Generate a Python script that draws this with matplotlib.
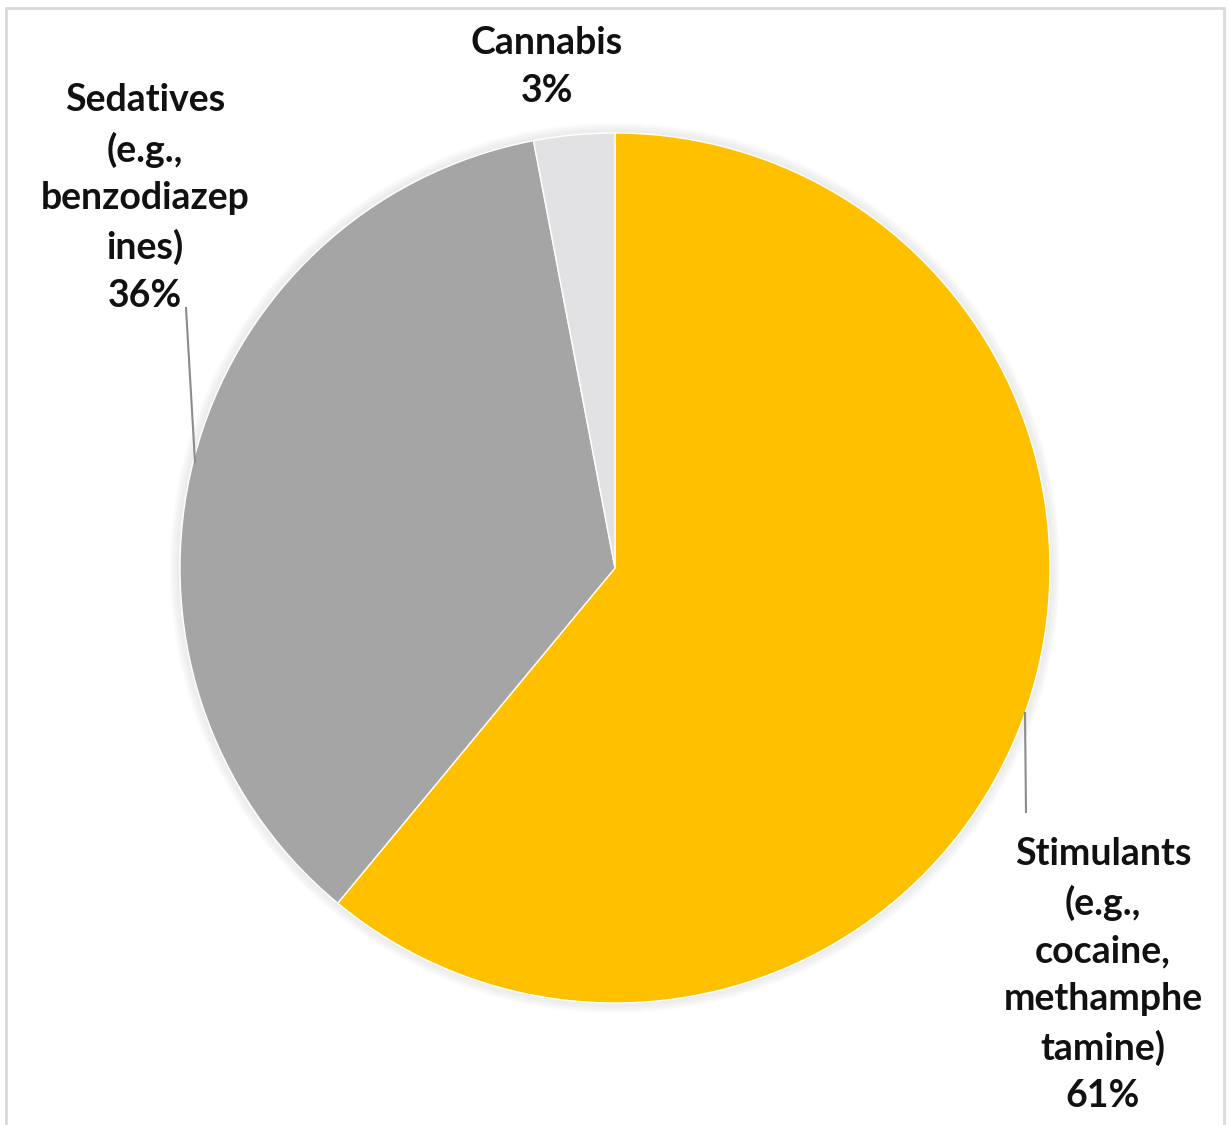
import matplotlib.pyplot as plt
from matplotlib.patches import Rectangle

labels = ["Stimulants\n(e.g.,\ncocaine,\nmethamphe\ntamine)", "Sedatives\n(e.g.,\nbenzodiazep\nines)", "Cannabis"]
values = [61, 36, 3]
colors = ["#FFC000", "#A5A5A5", "#E2E2E5"]

W, H = 1230, 1125
fig = plt.figure(figsize=(12.3, 11.25), dpi=100)
ax = fig.add_axes([0, 0, 1, 1])

# soft shadow around the pie
cx, cy, r = 615, H - 568, 435
for i in range(8):
    ax.add_patch(plt.Circle((cx, cy), r + 10 - i, color="#D8D8D8", alpha=0.06, lw=0))

ax.pie(values, colors=colors, startangle=90, counterclock=False,
       center=(cx, cy), radius=r, frame=True,
       wedgeprops=dict(edgecolor="white", linewidth=1))
ax.set_xlim(0, W)
ax.set_ylim(0, H)
ax.set_aspect("equal")
ax.axis("off")

font = dict(fontsize=27, fontweight="bold", family="Lato", color="#111111",
            ha="center", va="center", linespacing=1.47)
pos = [(1103, 975), (145, 198), (547, 67)]
for lab, v, (x, y) in zip(labels, values, pos):
    ax.text(x, H - y, f"{lab}\n{v}%", **font)

# leader lines
ax.plot([1025, 1026], [H - 713, H - 812], color="#8C8C8C", lw=1.5)
ax.plot([186, 195], [H - 308, H - 462], color="#8C8C8C", lw=1.5)

fig.patches.append(Rectangle((6 / W, -0.01), (1224 - 6) / W, (H - 8) / H + 0.01,
                             transform=fig.transFigure, fill=False,
                             edgecolor="#D9D9D9", lw=2))

fig.savefig("out.png", dpi=100, facecolor="white")
